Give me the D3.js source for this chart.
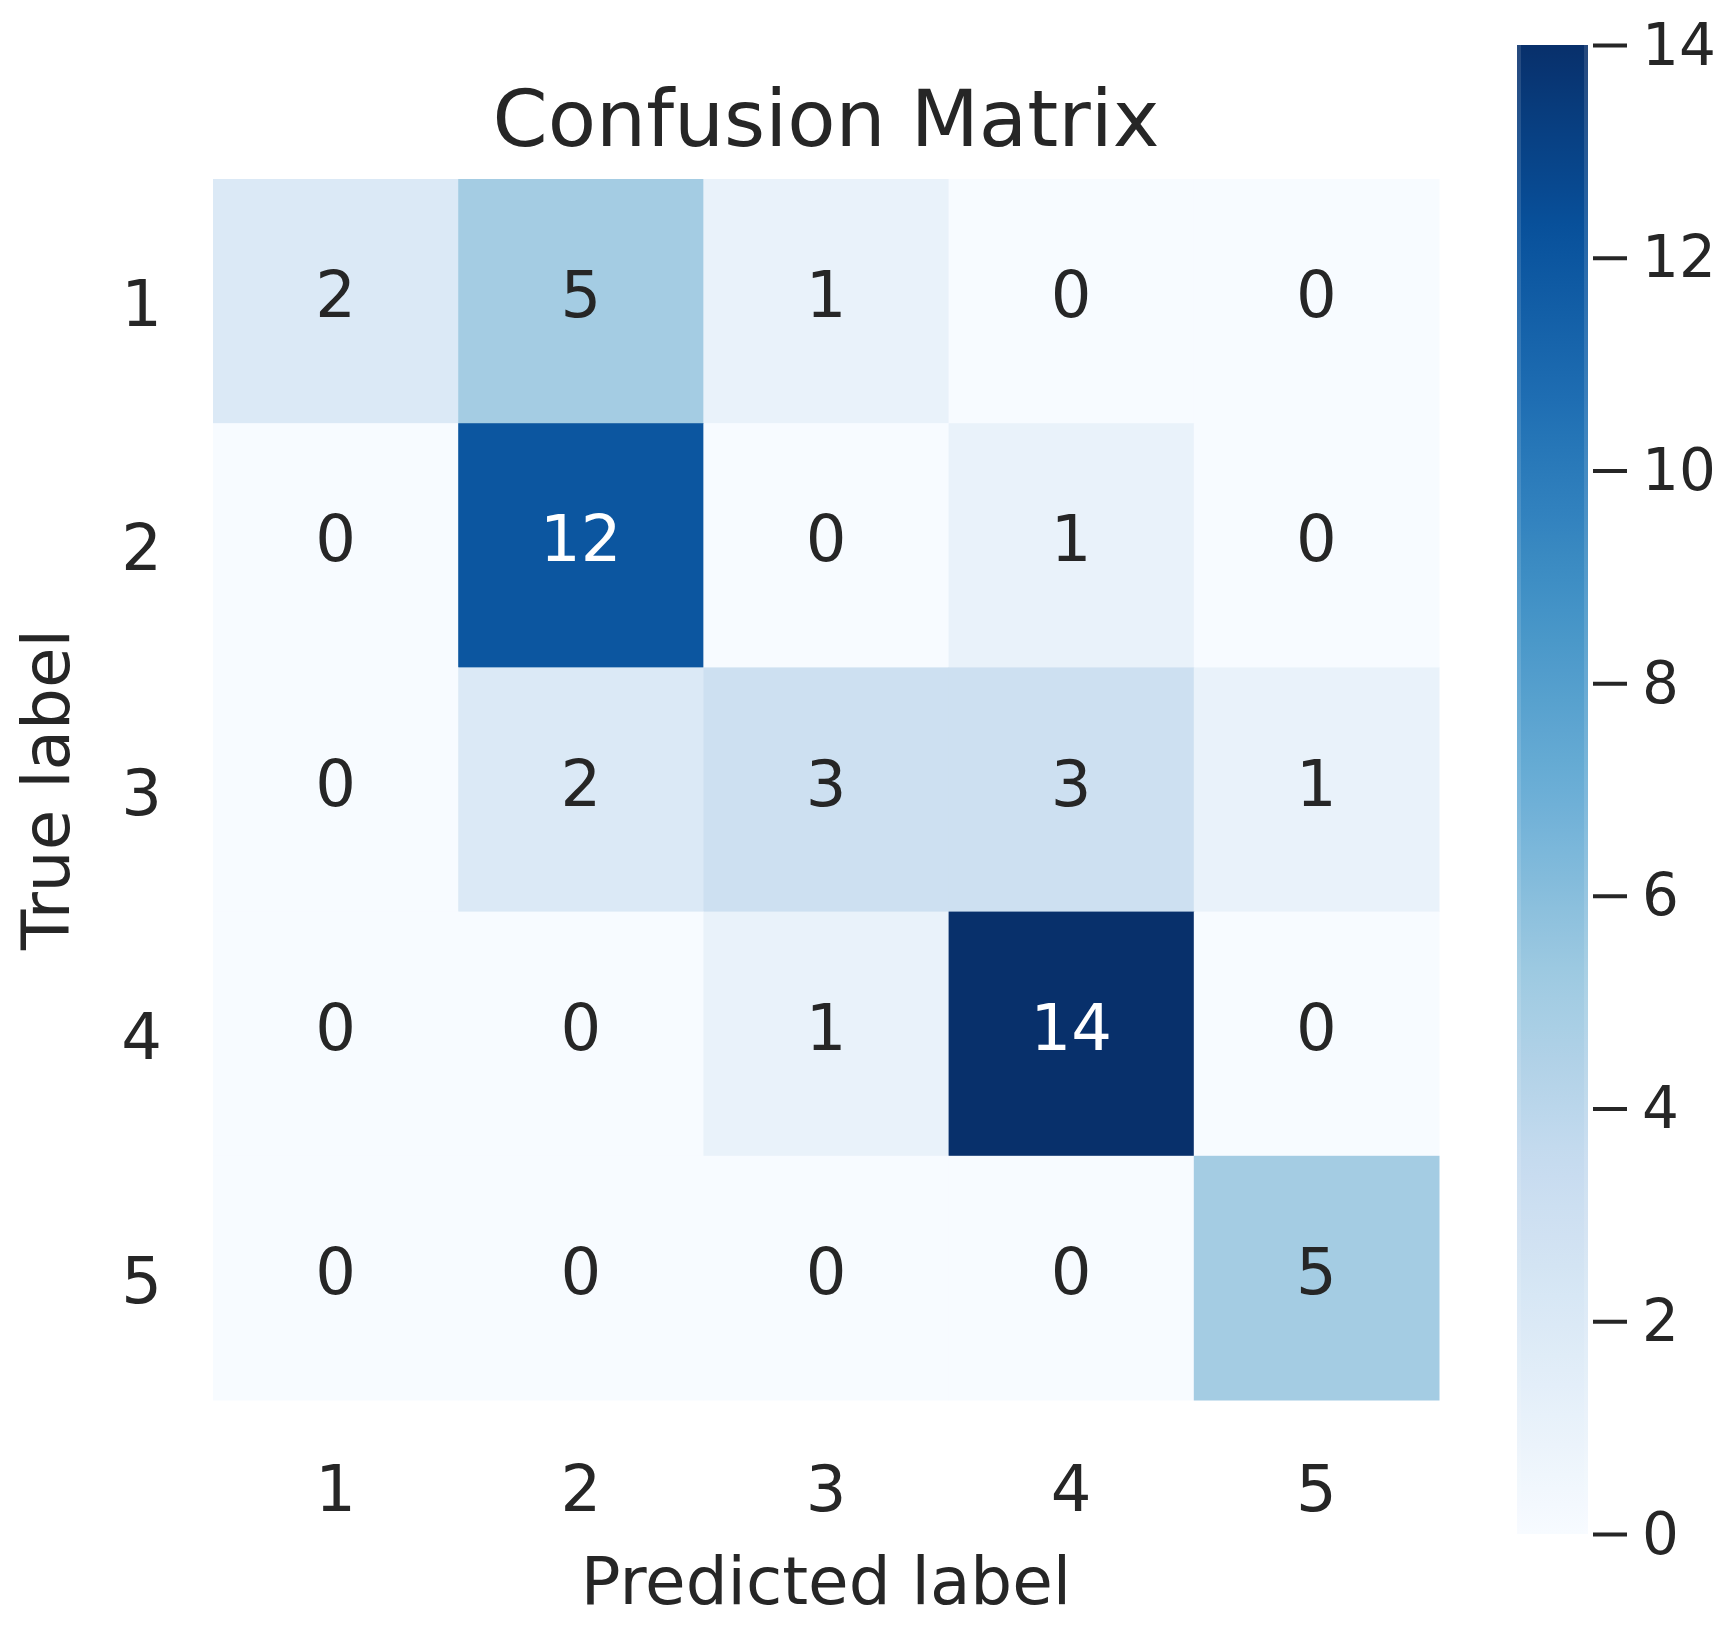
<!DOCTYPE html>
<html>
<head>
<meta charset="utf-8">
<script src="https://cdn.jsdelivr.net/npm/d3@7"></script>
<style>
  html, body { margin: 0; padding: 0; background: #ffffff; }
  svg { display: block; }
  text { font-family: "DejaVu Sans", sans-serif; fill: #262626; }
</style>
</head>
<body>
<svg id="chart" width="1728" height="1630"></svg>
<script>
// ---- data ----
const predictedLabels = ["1", "2", "3", "4", "5"];
const trueLabels = ["1", "2", "3", "4", "5"];
const row1 = [2, 5, 1, 0, 0];
const row2 = [0, 12, 0, 1, 0];
const row3 = [0, 2, 3, 3, 1];
const row4 = [0, 0, 1, 14, 0];
const row5 = [0, 0, 0, 0, 5];
const matrix = [row1, row2, row3, row4, row5];
const colorbarTicks = [0, 2, 4, 6, 8, 10, 12, 14];
const titleText = "Confusion Matrix";
const xLabelText = "Predicted label";
const yLabelText = "True label";

// ---- layout ----
const hm = { left: 213, right: 1439, top: 179, bottom: 1400 };
const cb = { left: 1517, right: 1588, top: 45, bottom: 1534 };

const svg = d3.select("#chart");

const blues = ["#f7fbff","#deebf7","#c6dbef","#9ecae1","#6baed6","#4292c6","#2171b5","#08519c","#08306b"];
const interp = d3.piecewise(d3.interpolateRgb, blues);
const vmin = 0, vmax = 14;
const color = v => interp((v - vmin) / (vmax - vmin));

const x = d3.scaleBand().domain(predictedLabels).range([hm.left, hm.right]).padding(0);
const y = d3.scaleBand().domain(trueLabels).range([hm.top, hm.bottom]).padding(0);

const cells = [];
matrix.forEach((row, i) => row.forEach((v, j) => cells.push({ r: trueLabels[i], c: predictedLabels[j], v })));

svg.append("g").selectAll("rect").data(cells).join("rect")
  .attr("x", d => x(d.c))
  .attr("y", d => y(d.r))
  .attr("width", x.bandwidth() + 0.5)
  .attr("height", y.bandwidth() + 0.5)
  .attr("fill", d => color(d.v));

// annotations
svg.append("g").selectAll("text").data(cells).join("text")
  .attr("x", d => x(d.c) + x.bandwidth() / 2)
  .attr("y", d => y(d.r) + y.bandwidth() / 2 + 16)
  .attr("text-anchor", "middle")
  .style("font-size", "64px")
  .style("fill", d => (d.v / vmax) > 0.6 ? "#ffffff" : "#262626")
  .text(d => d.v);

// axes
const xAxis = svg.append("g")
  .attr("transform", `translate(0,${hm.bottom})`)
  .call(d3.axisBottom(x).tickSize(0).tickPadding(0));
xAxis.select(".domain").remove();
xAxis.selectAll("text")
  .attr("y", 111).attr("dy", null)
  .style("font-size", "64px").style("fill", "#262626");

const yAxis = svg.append("g")
  .attr("transform", `translate(${hm.left},0)`)
  .call(d3.axisLeft(y).tickSize(0).tickPadding(0));
yAxis.select(".domain").remove();
yAxis.selectAll("text")
  .attr("x", -51).attr("dy", null).attr("y", 25)
  .style("font-size", "64px").style("fill", "#262626");

// title & labels
const cx = (hm.left + hm.right) / 2;
svg.append("text").attr("x", cx).attr("y", 146)
  .attr("text-anchor", "middle").style("font-size", "79px").text(titleText);
svg.append("text").attr("x", cx).attr("y", 1604)
  .attr("text-anchor", "middle").style("font-size", "66px").text(xLabelText);
svg.append("text")
  .attr("transform", `translate(69,${(hm.top + hm.bottom) / 2}) rotate(-90)`)
  .attr("text-anchor", "middle").style("font-size", "66px").text(yLabelText);

// colorbar
const cbScale = d3.scaleLinear().domain([vmin, vmax]).range([cb.bottom, cb.top]);
const defs = svg.append("defs");
const grad = defs.append("linearGradient").attr("id", "cbgrad")
  .attr("x1", 0).attr("y1", 1).attr("x2", 0).attr("y2", 0);
d3.range(0, 1.0001, 0.02).forEach(t => {
  grad.append("stop").attr("offset", t).attr("stop-color", interp(t));
});
svg.append("rect")
  .attr("x", cb.left).attr("y", cb.top)
  .attr("width", cb.right - cb.left).attr("height", cb.bottom - cb.top)
  .attr("fill", "url(#cbgrad)");
// faint lighter edges on the colorbar, as in the reference
[cb.left, cb.right - 4].forEach(ex => {
  svg.append("rect").attr("x", ex).attr("y", cb.top)
    .attr("width", 4).attr("height", cb.bottom - cb.top)
    .attr("fill", "#ffffff").attr("opacity", 0.12);
});

const cbAxis = svg.append("g")
  .attr("transform", `translate(1593,0)`)
  .call(d3.axisRight(cbScale).tickValues(colorbarTicks).tickSize(34).tickPadding(15));
cbAxis.select(".domain").remove();
cbAxis.selectAll("line").attr("stroke", "#262626").attr("stroke-width", 4);
cbAxis.selectAll("text")
  .attr("dy", null).attr("y", 19)
  .style("font-size", "58px").style("fill", "#262626");
</script>
</body>
</html>
